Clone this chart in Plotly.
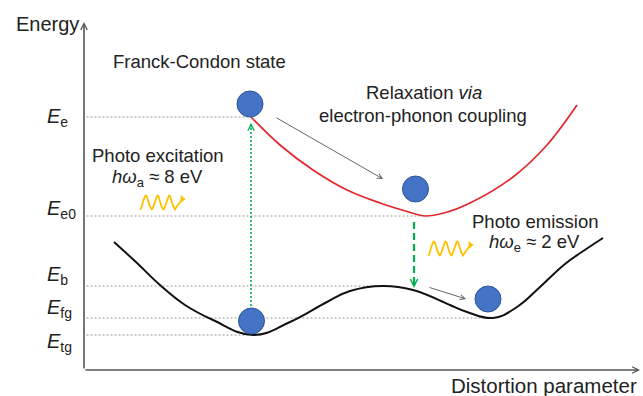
import numpy as np
import plotly.graph_objects as go

# ---- Energy levels (arbitrary units) ----
level_names = ["e", "e0", "b", "fg", "tg"]
level_energy = [10.12, 6.16, 3.36, 2.08, 1.40]
level_q_end = [3.32, 6.72, 5.98, 8.18, 3.42]
level_label_E = [10.10, 6.44, 3.78, 2.46, 1.10]

# ---- Ground-state potential surface (double well) ----
ground_q = [0.60, 1.06, 1.52, 2.02, 2.58, 3.38, 4.12, 4.86, 5.32, 5.98,
            6.58, 7.32, 7.66, 8.18, 8.66, 9.12, 9.62, 10.06, 10.38]
ground_E = [5.12, 4.28, 3.40, 2.60, 2.00, 1.40, 1.92, 2.72, 3.16, 3.36,
            3.20, 2.60, 2.32, 2.08, 2.52, 3.32, 4.24, 4.86, 5.28]

# ---- Excited-state potential surface ----
excited_q = [3.34, 3.92, 4.58, 5.26, 5.92, 6.50, 6.82, 7.20, 7.72, 8.58, 9.26, 9.86]
excited_E = [10.12, 9.00, 8.00, 7.20, 6.68, 6.32, 6.16, 6.28, 6.68, 7.72, 9.00, 10.60]

# ---- Electron positions ----
ball_q = [3.32, 6.63, 3.35, 8.08]
ball_E = [10.64, 7.24, 1.96, 2.84]

# ---- Transitions ----
excite_q, excite_from, excite_to = 3.34, 2.56, 9.88
emit_q, emit_from, emit_to = 6.60, 5.92, 3.28
relax_arrows = [((3.82, 10.12), (5.98, 7.64)), ((6.88, 3.32), (7.64, 2.84))]

# ---- Photon glyph anchors (left end, centre line) ----
photon_q = [1.12, 6.88]
photon_E = [6.70, 4.86]

Q_MAX, E_MAX = 11.12, 13.92
FONT = "Liberation Sans, Arial, sans-serif"
TXT = "#222222"
GREEN = "#00B050"
YELLOW = "#FFC000"

fig = go.Figure()

# dotted energy-level guides
for E, qe in zip(level_energy, level_q_end):
    fig.add_trace(go.Scatter(x=[0.05, qe], y=[E, E], mode="lines",
                             line=dict(color="#999999", width=1.1, dash="2px,2px"),
                             hoverinfo="skip"))

# potential surfaces
fig.add_trace(go.Scatter(x=ground_q, y=ground_E, mode="lines",
                         line=dict(color="#111111", width=2, shape="spline", smoothing=1.2),
                         hoverinfo="skip"))
fig.add_trace(go.Scatter(x=excited_q, y=excited_E, mode="lines",
                         line=dict(color="#E3262C", width=1.7, shape="spline", smoothing=1.0),
                         hoverinfo="skip"))

# vertical transitions (shafts)
fig.add_trace(go.Scatter(x=[excite_q, excite_q], y=[excite_from, excite_to], mode="lines",
                         line=dict(color=GREEN, width=1.6, dash="2px,2px"), hoverinfo="skip"))
fig.add_trace(go.Scatter(x=[emit_q, emit_q], y=[emit_from, emit_to], mode="lines",
                         line=dict(color=GREEN, width=2.2, dash="7px,4px"), hoverinfo="skip"))

# photon glyphs
def photon(q0, e0):
    t = np.linspace(0, 3, 91)
    wx = q0 + t * 0.233
    wy = e0 - 0.28 * np.cos(2 * np.pi * t)
    s = np.linspace(0, 1, 15)[1:]
    tx = wx[-1] + 0.2 * s
    ty = (e0 - 0.28) + 0.42 * np.sin(np.pi / 2 * s)
    return np.concatenate([wx, tx]), np.concatenate([wy, ty])

annotations = []
for q0, e0 in zip(photon_q, photon_E):
    px, py = photon(q0, e0)
    fig.add_trace(go.Scatter(x=px, y=py, mode="lines",
                             line=dict(color=YELLOW, width=1.8), hoverinfo="skip"))
    annotations.append(dict(x=px[-1], y=py[-1], ax=-4, ay=0, text="", showarrow=True,
                            arrowhead=1, arrowsize=0.9, arrowwidth=1.6, arrowcolor=YELLOW,
                            xref="x", yref="y"))

# electrons
fig.add_trace(go.Scatter(x=ball_q, y=ball_E, mode="markers",
                         marker=dict(size=26, color="#4472C4",
                                     line=dict(color="#2F5597", width=1)),
                         hoverinfo="skip"))

# arrowheads of the vertical transitions
annotations.append(dict(x=excite_q, y=excite_to, ax=0, ay=6, text="", showarrow=True,
                        arrowhead=5, arrowsize=0.9, arrowwidth=1.4, arrowcolor=GREEN,
                        xref="x", yref="y"))
annotations.append(dict(x=emit_q, y=emit_to, ax=0, ay=-6, text="", showarrow=True,
                        arrowhead=5, arrowsize=0.9, arrowwidth=1.6, arrowcolor=GREEN,
                        xref="x", yref="y"))

# relaxation arrows
for (q0, e0), (q1, e1) in relax_arrows:
    annotations.append(dict(x=q1, y=e1, ax=q0, ay=e0, axref="x", ayref="y",
                            xref="x", yref="y", text="", showarrow=True,
                            arrowhead=5, arrowsize=1.1, arrowwidth=0.9,
                            arrowcolor="#555555"))

# coordinate axes with arrows
annotations.append(dict(x=0, y=E_MAX, ax=0, ay=0, axref="x", ayref="y", xref="x", yref="y",
                        text="", showarrow=True, arrowhead=5, arrowsize=0.8,
                        arrowwidth=1.6, arrowcolor="#555555"))
annotations.append(dict(x=Q_MAX, y=0, ax=0, ay=0, axref="x", ayref="y", xref="x", yref="y",
                        text="", showarrow=True, arrowhead=5, arrowsize=0.8,
                        arrowwidth=1.6, arrowcolor="#555555"))

def label(text, x, y, size=18.5, xanchor="center", ref="data"):
    if ref == "paper":
        xr, yr = "paper", "paper"
    else:
        xr, yr = "x", "y"
    annotations.append(dict(text=text, x=x, y=y, xref=xr, yref=yr, showarrow=False,
                            xanchor=xanchor, yanchor="middle",
                            font=dict(family=FONT, size=size, color=TXT)))

# level labels, placed in the left margin
for name, ey in zip(level_names, level_label_E):
    label(f"<i>E</i><sub>{name}</sub>", -0.0701, ey / E_MAX, size=20,
          xanchor="left", ref="paper")

label("Energy", -0.126, 0.9943, size=20, xanchor="left", ref="paper")
label("Distortion parameter", 0.9982, -0.044, size=20.5, xanchor="right", ref="paper")
label("Franck-Condon state", 2.31, 12.35)
label("Relaxation <i>via</i>", 6.80, 11.09)
label("electron-phonon coupling", 6.78, 10.17)
label("Photo excitation", 1.47, 8.57)
label("<i>hω</i><sub>a</sub> ≈ 8 eV", 1.47, 7.68)
label("Photo emission", 9.02, 5.93)
label("<i>hω</i><sub>e</sub> ≈ 2 eV", 9.00, 5.08)

fig.update_layout(
    width=643, height=396,
    margin=dict(l=84, r=3, t=22, b=26),
    paper_bgcolor="white", plot_bgcolor="white",
    showlegend=False,
    xaxis=dict(range=[0, Q_MAX], visible=False, fixedrange=True),
    yaxis=dict(range=[0, E_MAX], visible=False, fixedrange=True),
    annotations=annotations,
)

fig.write_html("out.html")
